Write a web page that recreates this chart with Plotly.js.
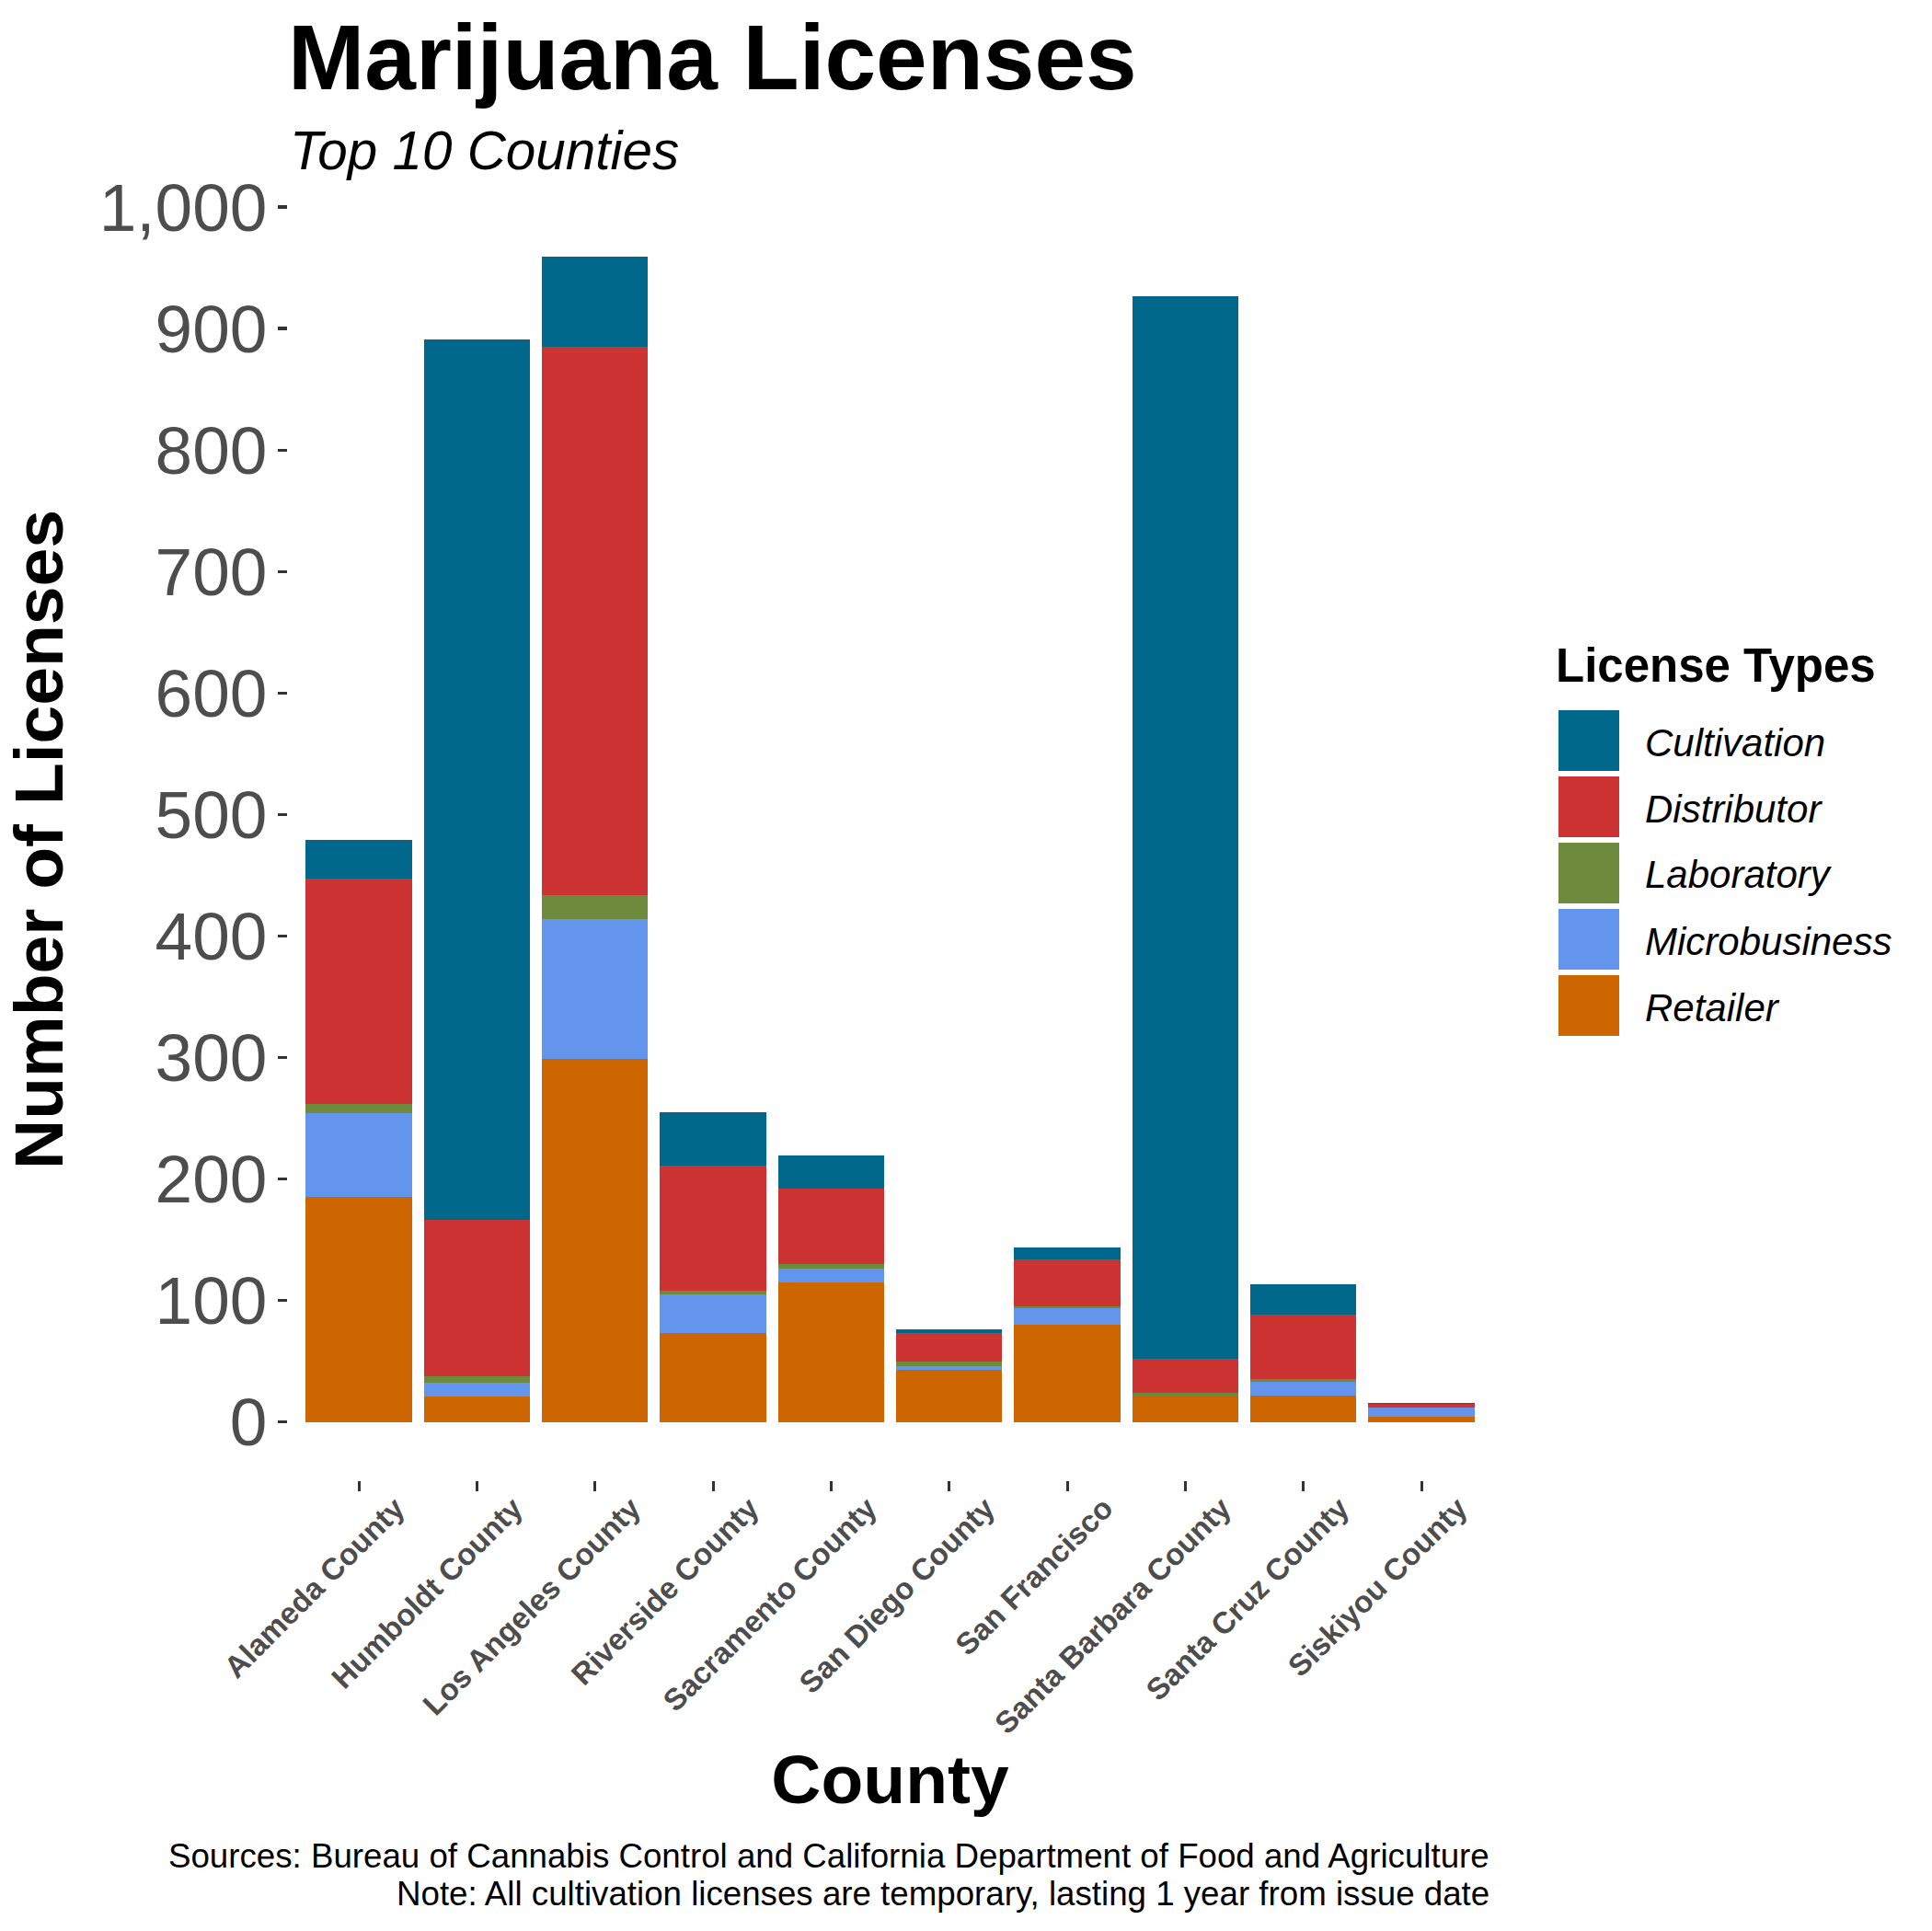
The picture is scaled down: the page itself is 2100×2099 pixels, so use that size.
<!DOCTYPE html>
<html>
<head>
<meta charset="utf-8">
<script src="https://cdn.plot.ly/plotly-3.0.1.min.js"></script>
<style>html,body{margin:0;padding:0;background:#fff;} #chart{width:2100px;height:2099px;}</style>
</head>
<body>
<div id="chart"></div>
<script>
// ---- data ----
var counties = ['Alameda County','Humboldt County','Los Angeles County','Riverside County','Sacramento County','San Diego County','San Francisco','Santa Barbara County','Santa Cruz County','Siskiyou County'];
var retailer      = [185,  21, 299,  73, 115, 43, 80,  22, 22, 4];
var microbusiness = [ 69,  11, 115,  32,  11,  3, 14,   0, 11, 8];
var laboratory    = [  8,   6,  20,   3,   4,  4,  1,   2,  2, 0];
var distributor   = [185, 128, 451, 103,  62, 23, 39,  28, 53, 3];
var cultivation   = [ 32, 725,  74,  44,  27,  3, 10, 875, 25, 1];
var licenseTypes  = ['Cultivation','Distributor','Laboratory','Microbusiness','Retailer'];

// ---- styling ----
var FONT = 'Arial, "Liberation Sans", sans-serif';
var colors = {Cultivation:'#00688B', Distributor:'#CD3333', Laboratory:'#6E8B3D', Microbusiness:'#6495ED', Retailer:'#CD6600'};
var seriesByName = {Cultivation:cultivation, Distributor:distributor, Laboratory:laboratory, Microbusiness:microbusiness, Retailer:retailer};
var stackOrder = ['Retailer','Microbusiness','Laboratory','Distributor','Cultivation'];

var traces = stackOrder.map(function(name){
  return {type:'bar', name:name, x:counties, y:seriesByName[name],
          marker:{color:colors[name], line:{width:0}}, showlegend:false};
});

var totals = counties.map(function(_, i){
  return stackOrder.reduce(function(s, n){ return s + seriesByName[n][i]; }, 0);
});
var maxTot = Math.max.apply(null, totals);

// page geometry (pixels)
var W = 2100, H = 2099, L = 313, R = 1622, T = 216, B = 1609;
function px(x){ return (x - L) / (R - L); }
function py(y){ return (B - y) / (B - T); }

var shapes = [], annotations = [];
// legend title
annotations.push({xref:'paper', yref:'paper', x:px(1689), y:py(723), xanchor:'left', yanchor:'middle',
  text:'License Types', showarrow:false, font:{family:FONT, size:51, weight:'bold', color:'#000'}});
licenseTypes.forEach(function(name, k){
  var top = 772 + 72*k;
  shapes.push({type:'rect', xref:'paper', yref:'paper', x0:px(1694), x1:px(1760), y0:py(top), y1:py(top+66),
    fillcolor:colors[name], line:{width:0}});
  annotations.push({xref:'paper', yref:'paper', x:px(1786), y:py(top+35), xanchor:'left', yanchor:'middle',
    text:'<i>'+name+'</i>', showarrow:false, font:{family:FONT, size:42, color:'#000'}});
});
// subtitle
annotations.push({xref:'paper', yref:'paper', x:px(313), y:py(163), xanchor:'left', yanchor:'middle',
  text:'<i>Top 10 Counties</i>', showarrow:false, font:{family:FONT, size:58.4, color:'#000'}});
// caption
annotations.push({xref:'paper', yref:'paper', x:px(1621), y:py(2017), xanchor:'right', yanchor:'middle',
  text:'Sources: Bureau of Cannabis Control and California Department of Food and Agriculture', showarrow:false,
  font:{family:FONT, size:36.7, color:'#000'}});
annotations.push({xref:'paper', yref:'paper', x:px(1621), y:py(2058.5), xanchor:'right', yanchor:'middle',
  text:'Note: All cultivation licenses are temporary, lasting 1 year from issue date', showarrow:false,
  font:{family:FONT, size:36.7, color:'#000'}});

var layout = {
  width:W, height:H,
  margin:{l:L, r:W-R, t:T, b:H-B, pad:0},
  paper_bgcolor:'#fff', plot_bgcolor:'#fff',
  font:{family:FONT},
  barmode:'stack', bargap:0.1,
  title:{text:'Marijuana Licenses', xref:'container', yref:'container', x:L/W, xanchor:'left',
         y:1-61.7/H, yanchor:'middle', font:{family:FONT, size:100, weight:'bold', color:'#000'}},
  xaxis:{type:'category', range:[-0.6, counties.length-0.4], showgrid:false, zeroline:false, showline:false,
         ticks:'outside', ticklen:11, tickwidth:3, tickcolor:'#333333',
         tickangle:-45, ticklabelshift:40, ticklabelstandoff:-14,
         tickfont:{family:FONT, size:33, weight:'bold', color:'#4d4d4d'},
         title:{text:'County', standoff:12, font:{family:FONT, size:75, weight:'bold', color:'#000'}}},
  yaxis:{range:[-0.05*maxTot, 1.05*maxTot], showgrid:false, zeroline:false, showline:false,
         tick0:0, dtick:100, tickformat:',d',
         ticks:'outside', ticklen:10, tickwidth:3.5, tickcolor:'#333333', ticklabelstandoff:-3,
         tickfont:{family:FONT, size:73, color:'#4d4d4d'},
         title:{text:'Number of Licenses', standoff:25, font:{family:FONT, size:75, weight:'bold', color:'#000'}}},
  shapes:shapes, annotations:annotations, showlegend:false
};

Plotly.newPlot('chart', traces, layout, {staticPlot:true, displayModeBar:false});
</script>
</body>
</html>
